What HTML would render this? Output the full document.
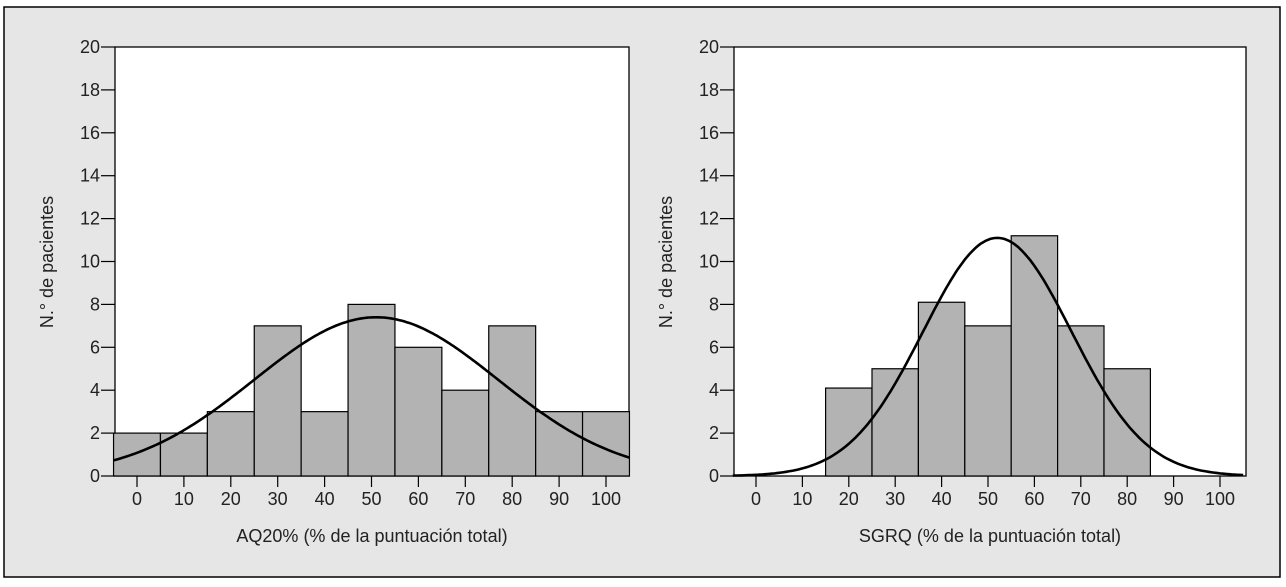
<!DOCTYPE html>
<html><head><meta charset="utf-8"><style>
body{margin:0;background:#fff;}
svg text{font-family:"Liberation Sans",sans-serif;font-size:18px;fill:#222;}
</style></head><body>
<svg width="1286" height="582">
<rect x="4" y="7" width="1276" height="570" fill="#e6e6e6" stroke="#000" stroke-width="1.5"/>
<g id="c1"></g>
<g id="c2"></g>
</svg>
<script>
const yTicks=[0,2,4,6,8,10,12,14,16,18,20];
const xTicks=[0,10,20,30,40,50,60,70,80,90,100];
const aqBins=[0,10,20,30,40,50,60,70,80,90,100];
const aqCounts=[2,2,3,7,3,8,6,4,7,3,3];
const sgBins=[20,30,40,50,60,70,80];
const sgCounts=[4.1,5,8.1,7,11.2,7,5];
const aqFit=[51,26,7.4]; // mean, sd, peak
const sgFit=[52,16,11.1];
const NS='http://www.w3.org/2000/svg';
function mk(p,t,a){const e=document.createElementNS(NS,t);for(const k in a)e.setAttribute(k,a[k]);p.appendChild(e);return e;}
function draw(gid,cfg,bins,counts,fit,xlabel){
 const g=document.getElementById(gid);
 const X=v=>cfg.x0+(v)*(cfg.x100-cfg.x0)/100;
 const Y=v=>476-v*(476-47)/20;
 const pa=mk(g,'rect',{x:cfg.L,y:47,width:cfg.R-cfg.L,height:429,fill:'#fff',stroke:'#000','stroke-width':1.3});
 
 bins.forEach((b,i)=>{const r=mk(g,'rect',{x:X(b-5),y:Y(counts[i]),width:X(b+5)-X(b-5),height:476-Y(counts[i]),fill:'#b3b3b3',stroke:'#000','stroke-width':1.2});
  });
 let d='';for(let v=-5;v<=105;v+=0.5){const y=fit[2]*Math.exp(-Math.pow(v-fit[0],2)/(2*fit[1]*fit[1]));d+=(d?'L':'M')+X(v).toFixed(1)+','+Y(y).toFixed(1);}
 const c=mk(g,'path',{d:d,fill:'none',stroke:'#000','stroke-width':2.6});
 
 yTicks.forEach(t=>{mk(g,'line',{x1:cfg.L-14,x2:cfg.L,y1:Y(t),y2:Y(t),stroke:'#000','stroke-width':1.2});
  const tx=mk(g,'text',{x:cfg.L-15,y:Y(t)+6,'text-anchor':'end'});tx.textContent=t;
  });
 xTicks.forEach(t=>{mk(g,'line',{x1:X(t),x2:X(t),y1:476,y2:487,stroke:'#000','stroke-width':1.2});
  const tx=mk(g,'text',{x:X(t),y:505,'text-anchor':'middle'});tx.textContent=t;
  });
 const xl=mk(g,'text',{x:(cfg.L+cfg.R)/2,y:542,'text-anchor':'middle'});xl.textContent=xlabel;
 
 const yl=mk(g,'text',{x:0,y:0,'text-anchor':'middle',transform:'translate('+(cfg.L-62)+',262) rotate(-90)'});yl.textContent='N.° de pacientes';
 
}
draw('c1',{L:115,R:629,x0:137,x100:606},aqBins,aqCounts,aqFit,'AQ20% (% de la puntuación total)');
draw('c2',{L:734,R:1246,x0:756,x100:1220},sgBins,sgCounts,sgFit,'SGRQ (% de la puntuación total)');
</script>
</body></html>
